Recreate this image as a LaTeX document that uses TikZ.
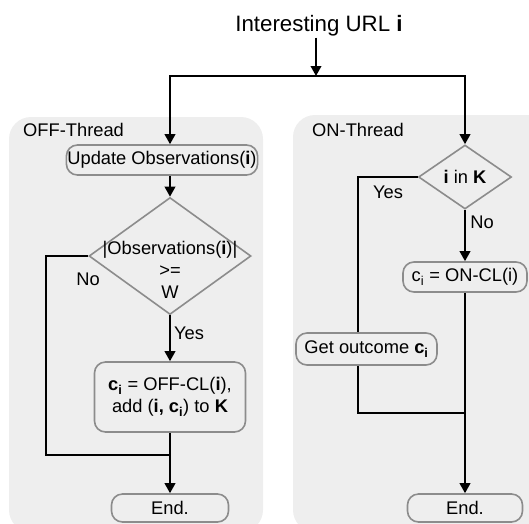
\documentclass[tikz,border=0pt]{standalone}
\usepackage{fontspec}
\setmainfont{Liberation Sans}
\usetikzlibrary{shapes.geometric,arrows.meta,calc}
\definecolor{panelgray}{HTML}{EEEEEE}
\definecolor{boxgray}{HTML}{8C8C8C}
\newcommand\bodyfont{\fontsize{18.3}{22}\selectfont}
\newcommand\titlefont{\fontsize{22.3}{26}\selectfont}
\begin{document}
\begin{tikzpicture}[x=1pt,y=-1pt,
  conn/.style={line width=2pt, black},
  arr/.style={conn, -{Triangle[length=10pt,width=10.5pt]}},
  box/.style={draw=boxgray, line width=1.6pt, rounded corners=11pt, fill=panelgray, inner sep=1pt, font=\bodyfont, align=center},
  dia/.style={draw=boxgray, line width=1.6pt, diamond, inner sep=0pt},
  lbl/.style={font=\bodyfont, inner sep=0pt, align=center},
  panel/.style={fill=panelgray, rounded corners=22pt}
]
\useasboundingbox (0,0) rectangle (529,523);
\begin{scope}
  \clip (0,0) rectangle (529,523);
  \fill[panel] (9,117) rectangle (263,532);
  \fill[panel] (293,115) rectangle (560,532);
\end{scope}

\node[font=\titlefont, inner sep=1pt] (title) at (319,26) {Interesting URL \textbf{i}};
\coordinate (split) at (316,76);

\node[lbl, anchor=west] (offt) at (23,130) {OFF-Thread};
\node[lbl, anchor=west] (ont) at (312,130) {ON-Thread};

% left column
\node[box, minimum width=190, minimum height=30] (upd) at (162,160) {Update Observations(\textbf{i})};
\node[dia, minimum width=162, minimum height=117] (ldia) at (170,256) {};
\node[lbl] (ldiat) at (170,270) {|Observations(\textbf{i})|\\>=\\W};
\node[lbl] (lno) at (88,279) {No};
\node[lbl] (lyes) at (189,333) {Yes};
\node[box, minimum width=151, minimum height=70] (offcl) at (170,397) {\textbf{c}\textsubscript{\textbf{i}} = OFF-CL(\textbf{i}),\\add (\textbf{i, c}\textsubscript{\textbf{i}}) to \textbf{K}};
\node[box, minimum width=117, minimum height=28] (lend) at (170,508) {End.};
\coordinate (lcorner) at (46,455);
\coordinate (ljoin) at (170,455);

% right column
\node[dia, minimum width=93, minimum height=64] (rdia) at (465,177) {};
\node[lbl] (rdiat) at (465,177) {\textbf{i} in \textbf{K}};
\node[lbl] (ryes) at (388,192) {Yes};
\node[lbl] (rno) at (482,222) {No};
\node[box, minimum width=124, minimum height=30] (oncl) at (465,277) {c\textsubscript{i} = ON-CL(i)};
\node[box, minimum width=141, minimum height=32] (get) at (366.5,349) {Get outcome \textbf{c}\textsubscript{\textbf{i}}};
\coordinate (rcorner) at (358,413);
\coordinate (rjoin) at (465,413);
\node[box, minimum width=115, minimum height=28] (rend) at (465,508) {End.};

% connectors
\draw[arr] (title.south -| split) -- (split);
\draw[arr] (split) -| (upd.north -| ldia.north);
\draw[arr] (split) -| (rdia.north);
\draw[arr] (upd.south -| ldia.north) -- (ldia.north);
\draw[arr] (ldia.south) -- (offcl.north);
\draw[conn] (ldia.west) -| (lcorner) -- (ljoin);
\draw[arr] (offcl.south) -- (lend.north);
\draw[arr] (rdia.south) -- (oncl.north);
\draw[arr] (oncl.south) -- (rend.north);
\draw[conn] (rdia.west) -| (get.north -| rcorner);
\draw[conn] (get.south -| rcorner) -- (rcorner) -- (rjoin);
\end{tikzpicture}
\end{document}
